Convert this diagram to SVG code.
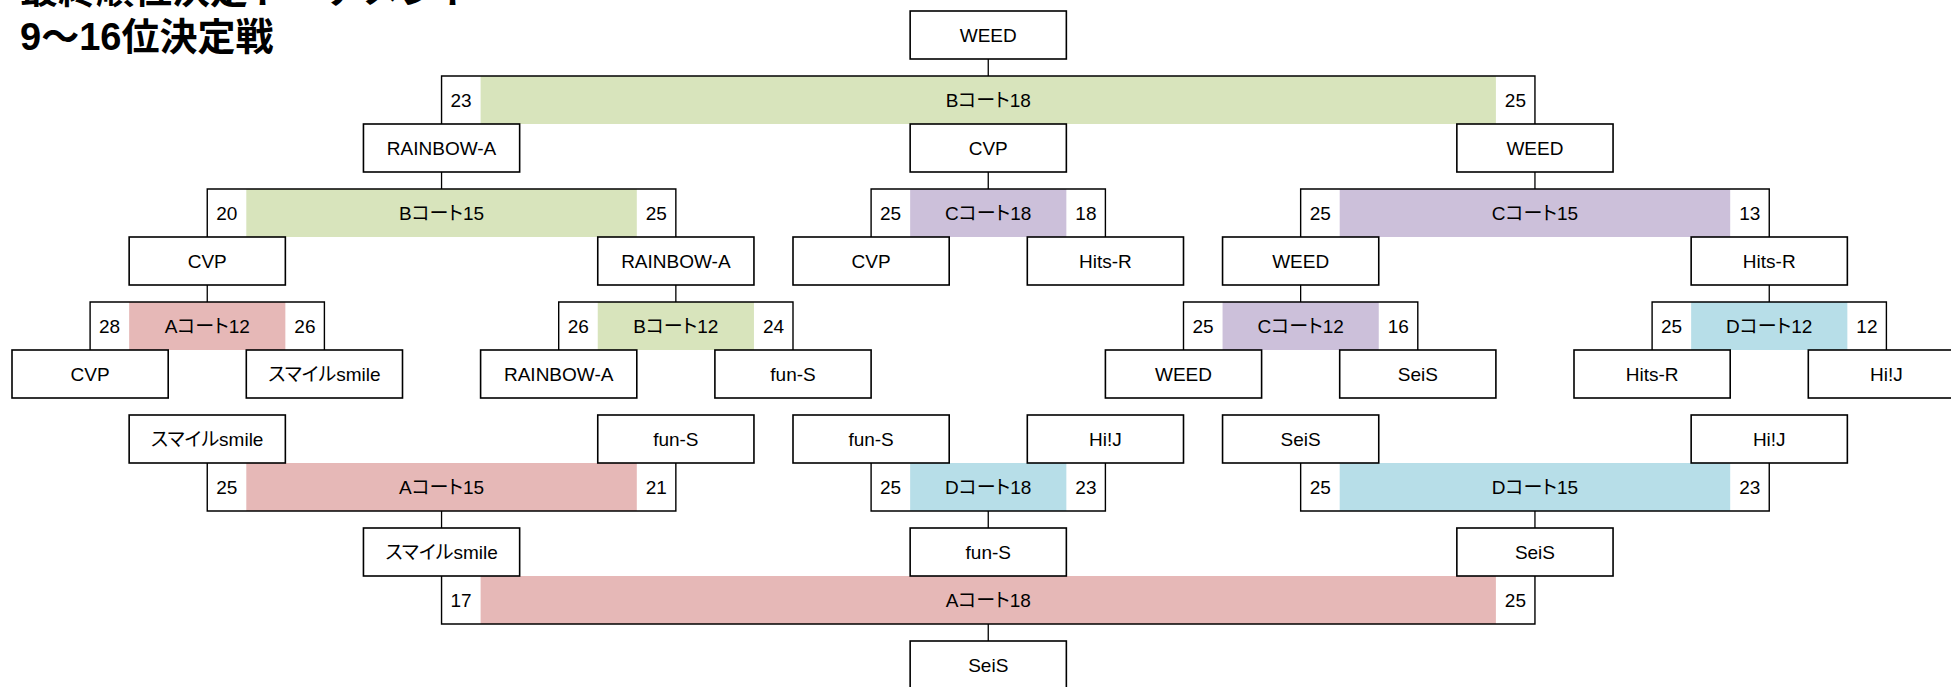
<svg xmlns="http://www.w3.org/2000/svg" width="1951" height="687" viewBox="0 0 1951 687">
<style>
.bx{fill:#fff;stroke:#000;stroke-width:1.6}
.t{font-family:"Liberation Sans","Noto Sans CJK JP",sans-serif;font-size:19px;text-anchor:middle;fill:#000;font-feature-settings:"palt"}
.fr{fill:none;stroke:#000;stroke-width:1.4}
.g{fill:#D8E4BC}.p{fill:#E6B8B7}.v{fill:#CCC0DA}.b{fill:#B7DEE8}
.cn line{stroke:#000;stroke-width:1.3}
.title{font-family:"Liberation Sans","Noto Sans CJK JP",sans-serif;font-size:38px;font-weight:bold;fill:#000}
</style>
<rect width="1951" height="687" fill="#fff"/>
<g id="title">
<text class="title" x="20" y="3">最終順位決定トーナメント</text>
<text class="title" x="20" y="50">9〜16位決定戦</text>
</g>

<!-- match bars (top half) -->
<g id="m-b18"><rect class="g" x="480.6" y="76" width="1015.3" height="48"/><path class="fr" d="M441.55,124V76H1534.95V124"/><text class="t" x="461.1" y="107">23</text><text class="t" x="988.25" y="107">Bコート18</text><text class="t" x="1515.4" y="107">25</text></g>
<g id="m-b15"><rect class="g" x="246.3" y="189" width="390.5" height="48"/><path class="fr" d="M207.25,237V189H675.85V237"/><text class="t" x="226.8" y="220">20</text><text class="t" x="441.55" y="220">Bコート15</text><text class="t" x="656.3" y="220">25</text></g>
<g id="m-c18"><rect class="v" x="910.15" y="189" width="156.2" height="48"/><path class="fr" d="M871.1,237V189H1105.4V237"/><text class="t" x="890.6" y="220">25</text><text class="t" x="988.25" y="220">Cコート18</text><text class="t" x="1085.9" y="220">18</text></g>
<g id="m-c15"><rect class="v" x="1339.7" y="189" width="390.5" height="48"/><path class="fr" d="M1300.65,237V189H1769.25V237"/><text class="t" x="1320.2" y="220">25</text><text class="t" x="1534.95" y="220">Cコート15</text><text class="t" x="1749.7" y="220">13</text></g>
<g id="m-a12"><rect class="p" x="129.15" y="302" width="156.2" height="48"/><path class="fr" d="M90.1,350V302H324.4V350"/><text class="t" x="109.6" y="333">28</text><text class="t" x="207.25" y="333">Aコート12</text><text class="t" x="304.9" y="333">26</text></g>
<g id="m-b12"><rect class="g" x="597.75" y="302" width="156.2" height="48"/><path class="fr" d="M558.7,350V302H793V350"/><text class="t" x="578.2" y="333">26</text><text class="t" x="675.85" y="333">Bコート12</text><text class="t" x="773.5" y="333">24</text></g>
<g id="m-c12"><rect class="v" x="1222.55" y="302" width="156.2" height="48"/><path class="fr" d="M1183.5,350V302H1417.8V350"/><text class="t" x="1203" y="333">25</text><text class="t" x="1300.65" y="333">Cコート12</text><text class="t" x="1398.3" y="333">16</text></g>
<g id="m-d12"><rect class="b" x="1691.15" y="302" width="156.2" height="48"/><path class="fr" d="M1652.1,350V302H1886.4V350"/><text class="t" x="1671.6" y="333">25</text><text class="t" x="1769.25" y="333">Dコート12</text><text class="t" x="1866.9" y="333">12</text></g>

<!-- match bars (bottom half) -->
<g id="m-a15"><rect class="p" x="246.3" y="463" width="390.5" height="48"/><path class="fr" d="M207.25,463V511H675.85V463"/><text class="t" x="226.8" y="494">25</text><text class="t" x="441.55" y="494">Aコート15</text><text class="t" x="656.3" y="494">21</text></g>
<g id="m-d18"><rect class="b" x="910.15" y="463" width="156.2" height="48"/><path class="fr" d="M871.1,463V511H1105.4V463"/><text class="t" x="890.6" y="494">25</text><text class="t" x="988.25" y="494">Dコート18</text><text class="t" x="1085.9" y="494">23</text></g>
<g id="m-d15"><rect class="b" x="1339.7" y="463" width="390.5" height="48"/><path class="fr" d="M1300.65,463V511H1769.25V463"/><text class="t" x="1320.2" y="494">25</text><text class="t" x="1534.95" y="494">Dコート15</text><text class="t" x="1749.7" y="494">23</text></g>
<g id="m-a18"><rect class="p" x="480.6" y="576" width="1015.3" height="48"/><path class="fr" d="M441.55,576V624H1534.95V576"/><text class="t" x="461.1" y="607">17</text><text class="t" x="988.25" y="607">Aコート18</text><text class="t" x="1515.4" y="607">25</text></g>

<g id="connectors" class="cn">
<line x1="988.25" y1="59" x2="988.25" y2="76"/>
<line x1="441.55" y1="172" x2="441.55" y2="189"/>
<line x1="988.25" y1="172" x2="988.25" y2="189"/>
<line x1="1534.95" y1="172" x2="1534.95" y2="189"/>
<line x1="207.25" y1="285" x2="207.25" y2="302"/>
<line x1="675.85" y1="285" x2="675.85" y2="302"/>
<line x1="1300.65" y1="285" x2="1300.65" y2="302"/>
<line x1="1769.25" y1="285" x2="1769.25" y2="302"/>
<line x1="441.55" y1="511" x2="441.55" y2="528"/>
<line x1="988.25" y1="511" x2="988.25" y2="528"/>
<line x1="1534.95" y1="511" x2="1534.95" y2="528"/>
<line x1="988.25" y1="624" x2="988.25" y2="641"/>
</g>

<!-- team boxes -->
<g id="r0-weed"><rect class="bx" x="910.15" y="11" width="156.2" height="48"/><text class="t" x="988.25" y="42">WEED</text></g>
<g id="r1-rainbow"><rect class="bx" x="363.45" y="124" width="156.2" height="48"/><text class="t" x="441.55" y="155">RAINBOW-A</text></g>
<g id="r1-cvp"><rect class="bx" x="910.15" y="124" width="156.2" height="48"/><text class="t" x="988.25" y="155">CVP</text></g>
<g id="r1-weed"><rect class="bx" x="1456.85" y="124" width="156.2" height="48"/><text class="t" x="1534.95" y="155">WEED</text></g>

<g id="r2-cvp1"><rect class="bx" x="129.15" y="237" width="156.2" height="48"/><text class="t" x="207.25" y="268">CVP</text></g>
<g id="r2-rainbow"><rect class="bx" x="597.75" y="237" width="156.2" height="48"/><text class="t" x="675.85" y="268">RAINBOW-A</text></g>
<g id="r2-cvp2"><rect class="bx" x="793" y="237" width="156.2" height="48"/><text class="t" x="871.1" y="268">CVP</text></g>
<g id="r2-hitsr1"><rect class="bx" x="1027.3" y="237" width="156.2" height="48"/><text class="t" x="1105.4" y="268">Hits-R</text></g>
<g id="r2-weed"><rect class="bx" x="1222.55" y="237" width="156.2" height="48"/><text class="t" x="1300.65" y="268">WEED</text></g>
<g id="r2-hitsr2"><rect class="bx" x="1691.15" y="237" width="156.2" height="48"/><text class="t" x="1769.25" y="268">Hits-R</text></g>

<g id="r3-cvp"><rect class="bx" x="12" y="350" width="156.2" height="48"/><text class="t" x="90.1" y="381">CVP</text></g>
<g id="r3-smile"><rect class="bx" x="246.3" y="350" width="156.2" height="48"/><text class="t" x="324.4" y="381">スマイルsmile</text></g>
<g id="r3-rainbow"><rect class="bx" x="480.6" y="350" width="156.2" height="48"/><text class="t" x="558.7" y="381">RAINBOW-A</text></g>
<g id="r3-funs"><rect class="bx" x="714.9" y="350" width="156.2" height="48"/><text class="t" x="793" y="381">fun-S</text></g>
<g id="r3-weed"><rect class="bx" x="1105.4" y="350" width="156.2" height="48"/><text class="t" x="1183.5" y="381">WEED</text></g>
<g id="r3-seis"><rect class="bx" x="1339.7" y="350" width="156.2" height="48"/><text class="t" x="1417.8" y="381">SeiS</text></g>
<g id="r3-hitsr"><rect class="bx" x="1574" y="350" width="156.2" height="48"/><text class="t" x="1652.1" y="381">Hits-R</text></g>
<g id="r3-hij"><rect class="bx" x="1808.3" y="350" width="156.2" height="48"/><text class="t" x="1886.4" y="381">Hi!J</text></g>

<g id="r4-smile"><rect class="bx" x="129.15" y="415" width="156.2" height="48"/><text class="t" x="207.25" y="446">スマイルsmile</text></g>
<g id="r4-funs1"><rect class="bx" x="597.75" y="415" width="156.2" height="48"/><text class="t" x="675.85" y="446">fun-S</text></g>
<g id="r4-funs2"><rect class="bx" x="793" y="415" width="156.2" height="48"/><text class="t" x="871.1" y="446">fun-S</text></g>
<g id="r4-hij1"><rect class="bx" x="1027.3" y="415" width="156.2" height="48"/><text class="t" x="1105.4" y="446">Hi!J</text></g>
<g id="r4-seis"><rect class="bx" x="1222.55" y="415" width="156.2" height="48"/><text class="t" x="1300.65" y="446">SeiS</text></g>
<g id="r4-hij2"><rect class="bx" x="1691.15" y="415" width="156.2" height="48"/><text class="t" x="1769.25" y="446">Hi!J</text></g>

<g id="r5-smile"><rect class="bx" x="363.45" y="528" width="156.2" height="48"/><text class="t" x="441.55" y="559">スマイルsmile</text></g>
<g id="r5-funs"><rect class="bx" x="910.15" y="528" width="156.2" height="48"/><text class="t" x="988.25" y="559">fun-S</text></g>
<g id="r5-seis"><rect class="bx" x="1456.85" y="528" width="156.2" height="48"/><text class="t" x="1534.95" y="559">SeiS</text></g>

<g id="r6-seis"><rect class="bx" x="910.15" y="641" width="156.2" height="48"/><text class="t" x="988.25" y="672">SeiS</text></g>
</svg>
